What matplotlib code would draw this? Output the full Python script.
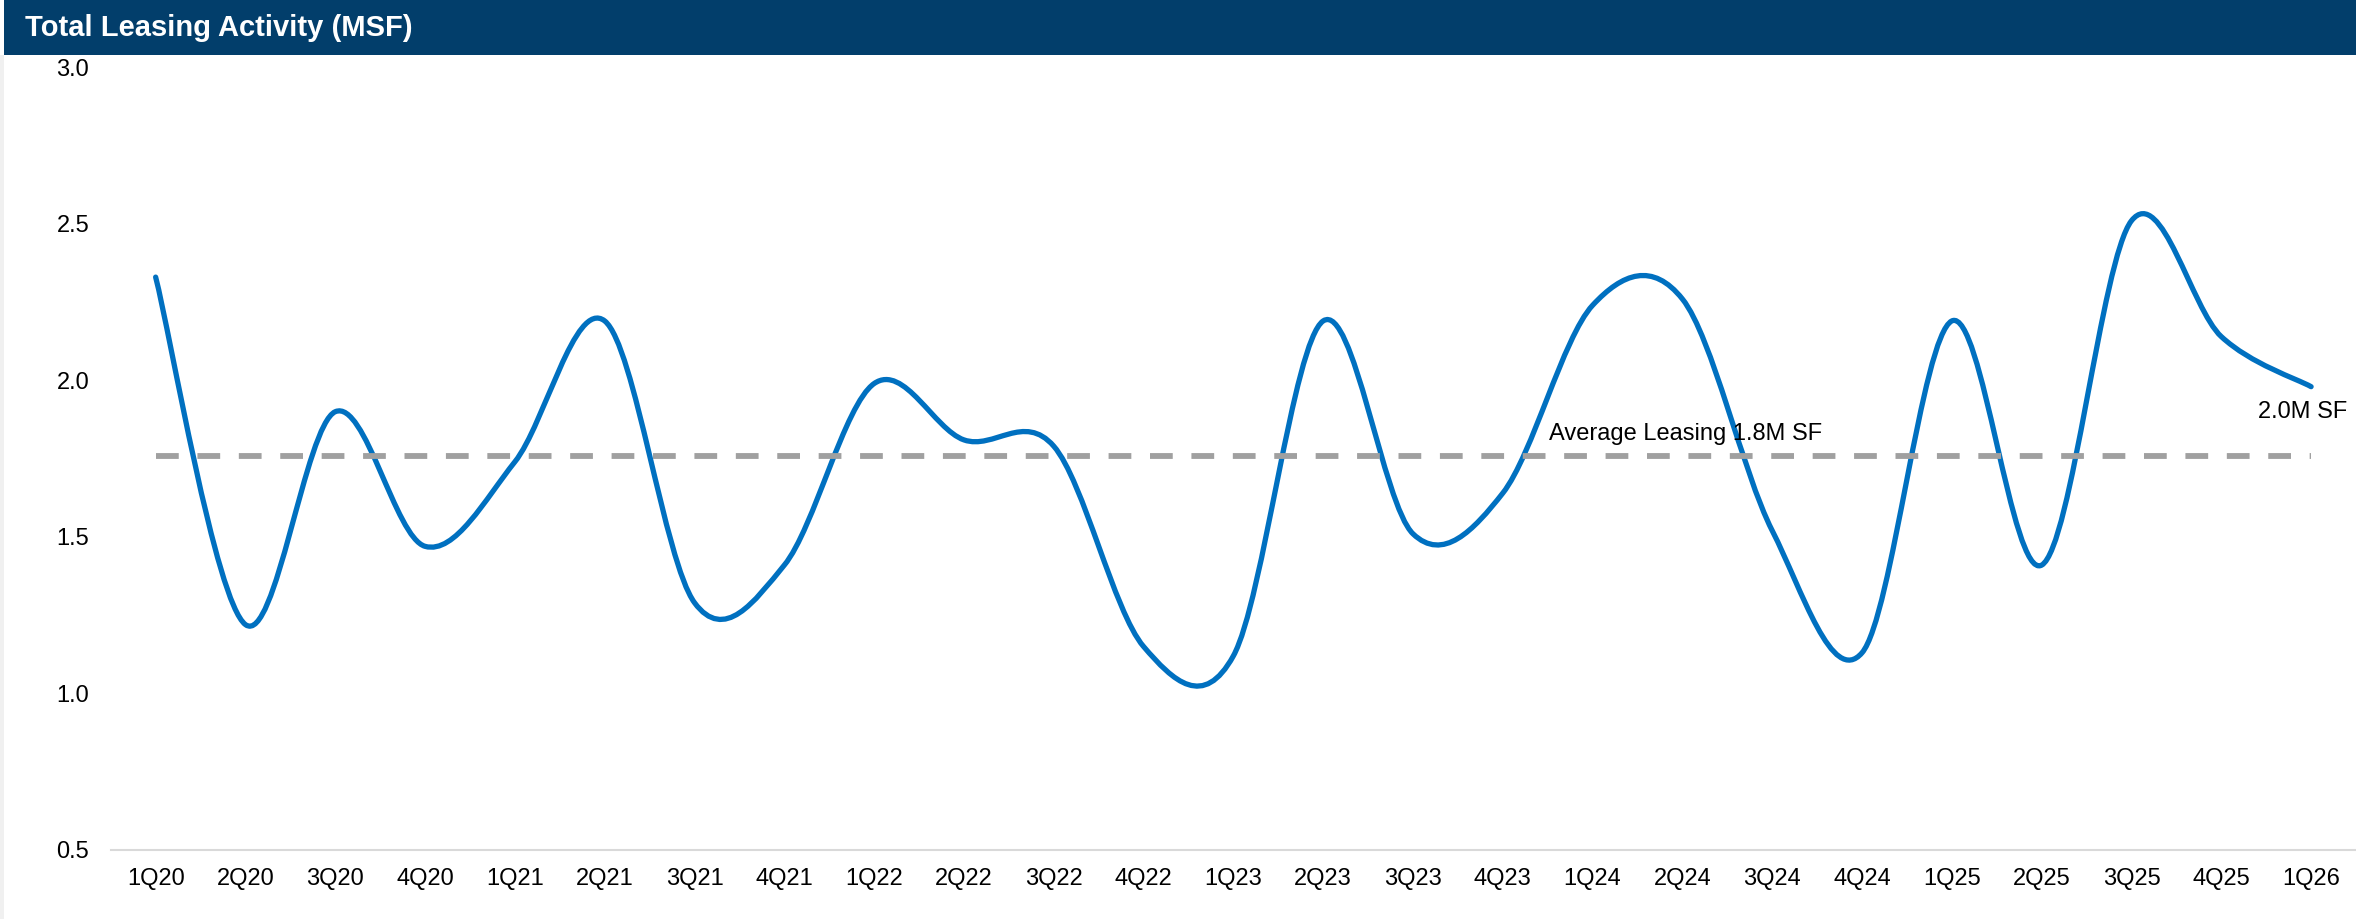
#!/usr/bin/env python3
import numpy as np
import matplotlib
matplotlib.use("Agg")
import matplotlib.pyplot as plt
from matplotlib.path import Path
from matplotlib.patches import PathPatch, Rectangle

# quarters and leasing volume (MSF)
quarters = ["1Q20", "2Q20", "3Q20", "4Q20", "1Q21", "2Q21", "3Q21", "4Q21",
            "1Q22", "2Q22", "3Q22", "4Q22", "1Q23", "2Q23", "3Q23", "4Q23",
            "1Q24", "2Q24", "3Q24", "4Q24", "1Q25", "2Q25", "3Q25", "4Q25", "1Q26"]
leasing = [2.33, 1.22, 1.90, 1.47, 1.74, 2.19, 1.29, 1.41,
           1.99, 1.81, 1.79, 1.15, 1.12, 2.19, 1.51, 1.64,
           2.24, 2.26, 1.52, 1.13, 2.19, 1.41, 2.51, 2.14, 1.98]
average = [1.76] * len(quarters)
yticks = [0.5, 1.0, 1.5, 2.0, 2.5, 3.0]

title = "Total Leasing Activity (MSF)"
avg_label = "Average Leasing 1.8M SF"
last_label = "2.0M SF"

BLUE = "#0070C0"
NAVY = "#023E6B"
GREY = "#A0A0A0"

plt.rcParams["font.family"] = ["Liberation Sans", "DejaVu Sans"]


def smooth_path(x, y):
    # excel style smoothed line: cubic bezier through every point
    pts = np.column_stack([x, y]).astype(float)
    n = len(pts)
    verts = [pts[0]]
    codes = [Path.MOVETO]
    for i in range(n - 1):
        p0 = pts[i - 1] if i > 0 else pts[i]
        p1 = pts[i]
        p2 = pts[i + 1]
        p3 = pts[i + 2] if i + 2 < n else pts[i + 1]
        c1 = p1 + (p2 - p0) / 6.0
        c2 = p2 - (p3 - p1) / 6.0
        verts += [c1, c2, p2]
        codes += [Path.CURVE4] * 3
    return Path(verts, codes)


def main():
    fig = plt.figure(figsize=(23.56, 9.19), dpi=100)
    fig.patch.set_facecolor("white")

    # header bar and left strip
    fig.add_artist(Rectangle((0.0017, 0.940), 1.0, 0.060, transform=fig.transFigure,
                             facecolor=NAVY, edgecolor="none"))
    fig.add_artist(Rectangle((0, 0), 0.0017, 0.940, transform=fig.transFigure,
                             facecolor="#F0F0F0", edgecolor="none"))
    fig.text(0.0104, 0.970, title, color="white", fontsize=21, fontweight="bold",
             va="center", ha="left")

    ax = fig.add_axes([0.047, 0.0751, 0.953, 0.8516])
    x = np.arange(len(quarters))

    ax.plot(x, average, color=GREY, lw=4.2, linestyle=(0, (3.9, 3.2)))
    ax.add_patch(PathPatch(smooth_path(x, leasing), facecolor="none", edgecolor=BLUE,
                           lw=3.8, capstyle="round", joinstyle="round"))

    ax.text(15.52, 1.83, avg_label, fontsize=17, ha="left", va="center")
    ax.text(23.41, 1.90, last_label, fontsize=17, ha="left", va="center")

    ax.set_xlim(-0.5, len(quarters) - 0.5)
    ax.set_ylim(0.5, 3.0)
    ax.set_xticks(x)
    ax.set_xticklabels(quarters)
    ax.set_yticks(yticks)
    ax.set_yticklabels([f"{v:.1f}" for v in yticks])
    ax.tick_params(axis="both", length=0, labelsize=17)
    ax.tick_params(axis="y", pad=15.5)
    ax.tick_params(axis="x", pad=13)
    for s in ["top", "right", "left"]:
        ax.spines[s].set_visible(False)
    ax.spines["bottom"].set_color("#D9D9D9")
    ax.spines["bottom"].set_linewidth(1.5)

    fig.savefig("out.png", dpi=100)


if __name__ == "__main__":
    main()
